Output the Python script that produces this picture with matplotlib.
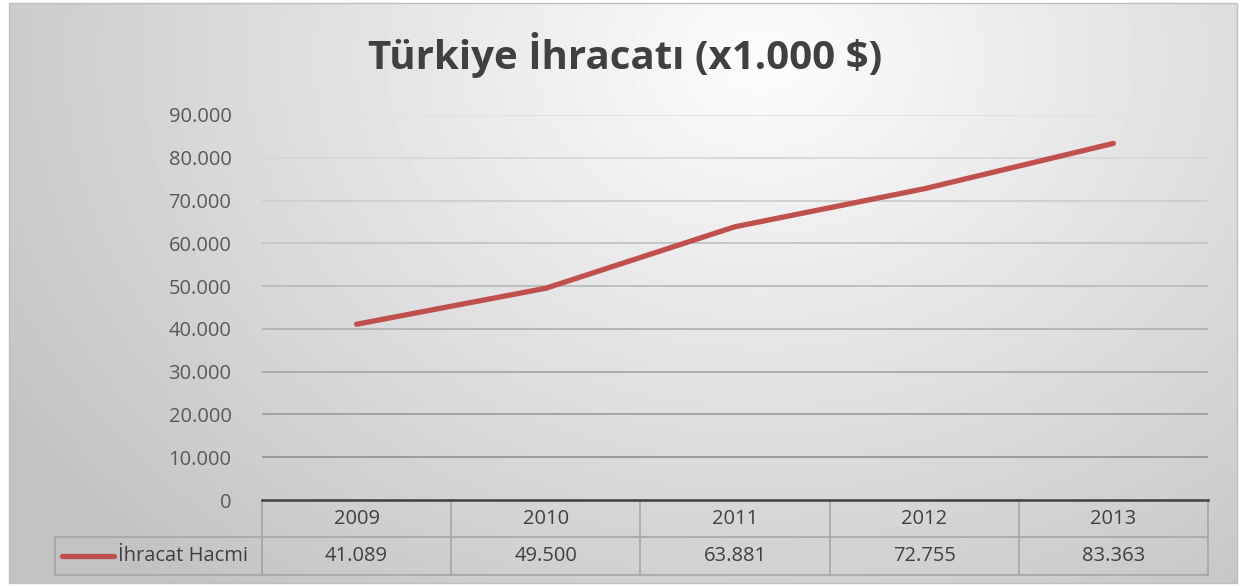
import numpy as np
import matplotlib
matplotlib.use("Agg")
import matplotlib.pyplot as plt
from matplotlib.lines import Line2D
from matplotlib.patches import Rectangle
import matplotlib.transforms as mtransforms

plt.rcParams['font.family'] = ['Open Sans', 'DejaVu Sans']

# veri
years = ['2009', '2010', '2011', '2012', '2013']
ihracat = [41089, 49500, 63881, 72755, 83363]
ihracat_labels = ['41.089', '49.500', '63.881', '72.755', '83.363']
yticks = [0, 10000, 20000, 30000, 40000, 50000, 60000, 70000, 80000, 90000]
ytick_labels = ['0', '10.000', '20.000', '30.000', '40.000', '50.000',
                '60.000', '70.000', '80.000', '90.000']
series_name = 'İhracat Hacmi'
title = 'Türkiye İhracatı (x1.000 $)'

W, H = 1241, 586
fig = plt.figure(figsize=(W / 100, H / 100), dpi=100)

# arka plan: radyal gradyan
bg = fig.add_axes([0, 0, 1, 1], zorder=-10)
yy, xx = np.mgrid[0:H, 0:W]
d = np.sqrt(((xx - 760) / 900.0) ** 2 + ((yy - 60) / 700.0) ** 2)
img = np.clip(0.99 - 0.23 * d, 0.76, 1.0)
frame_mask = (xx >= 9) & (xx <= 1237) & (yy >= 3) & (yy <= 583)
img = np.where(frame_mask, img, 1.0)
bg.imshow(img, cmap='gray', vmin=0, vmax=1, extent=[0, W, H, 0], aspect='auto')
bg.add_patch(Rectangle((9, 3), 1228, 580, fill=False, edgecolor='#bfbfbf', lw=1))
bg.set_xlim(0, W)
bg.set_ylim(H, 0)
bg.axis('off')

# grafik alanı
left, right, top, bottom = 262, 1208, 115, 500
ax = fig.add_axes([left / W, 1 - bottom / H, (right - left) / W, (bottom - top) / H])
ax.patch.set_alpha(0)
x = np.arange(len(years))
ax.set_xlim(-0.5, len(years) - 0.5)
ax.set_ylim(0, 90000)

# kılavuz çizgileri (üstte açık, altta koyu)
for v in yticks[1:]:
    t = v / 90000.0
    g = 0.55 + 0.33 * t
    ax.axhline(v, color=(g, g, g), lw=1.3, zorder=1)

ax.plot(x, ihracat, color='#c0504d', lw=3.8, solid_capstyle='round', zorder=3)

ax.set_yticks(yticks)
ax.set_yticklabels(ytick_labels, fontsize=14.5, color='#595959')
ax.tick_params(axis='y', length=0, pad=22)
ax.set_xticks([])
for s in ['top', 'right', 'left']:
    ax.spines[s].set_visible(False)
ax.spines['bottom'].set_color('#404040')
ax.spines['bottom'].set_linewidth(1.8)

# veri tablosu
trans = mtransforms.blended_transform_factory(ax.transData, fig.transFigure)
row1_top, row1_bot, row2_bot = 500, 537, 575
fy = lambda p: 1 - p / H
tc = '#a6a6a6'
for i in range(len(years) + 1):
    xb = i - 0.5
    ax.add_line(Line2D([xb, xb], [fy(row1_top), fy(row2_bot)], transform=trans,
                       color=tc, lw=1.2, clip_on=False))
for p in [row1_bot, row2_bot]:
    ax.add_line(Line2D([-0.5, len(years) - 0.5], [fy(p), fy(p)], transform=trans,
                       color=tc, lw=1.2, clip_on=False))
for i, (yr, lab) in enumerate(zip(years, ihracat_labels)):
    ax.text(i, fy((row1_top + row1_bot) / 2), yr, transform=trans, ha='center',
            va='center', fontsize=14.5, color='#404040')
    ax.text(i, fy((row1_bot + row2_bot) / 2), lab, transform=trans, ha='center',
            va='center', fontsize=14.5, color='#404040')

# lejant hücresi
bg.add_patch(Rectangle((55, row1_bot), left - 55, row2_bot - row1_bot, fill=False,
                       edgecolor=tc, lw=1.2))
bg.add_line(Line2D([62, 114], [556, 556], color='#c0504d', lw=3.8,
                   solid_capstyle='round'))
bg.text(118, 556, series_name, ha='left', va='center', fontsize=14.5, color='#404040')

fig.text(625 / W, 1 - 55 / H, title, ha='center', va='center', fontsize=29,
         fontweight='bold', color='#404040')

fig.savefig('out.png', dpi=100)
